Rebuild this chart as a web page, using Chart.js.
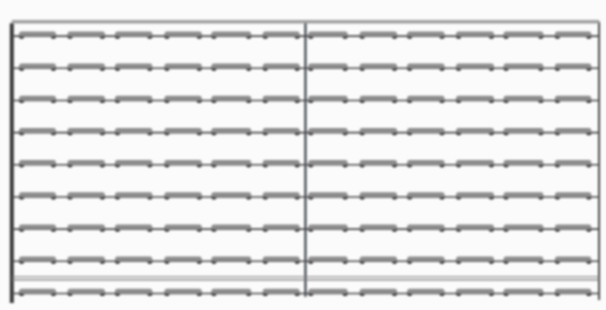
<!DOCTYPE html>
<html>
<head>
<meta charset="utf-8">
<script src="https://cdn.jsdelivr.net/npm/chart.js@4.4.1/dist/chart.umd.min.js"></script>
<style>
  html, body { margin: 0; padding: 0; background: #fbfbfb; }
  #wrap { width: 606px; height: 310px; }
  canvas { filter: blur(0.8px); }
</style>
</head>
<body>
<div id="wrap"><canvas id="gridChart" width="606" height="310"></canvas></div>
<script>
// rows of the rack (y in row units), and the frame lines
const rows = [1, 2, 3, 4, 5, 6, 7, 8, 9];
const borders = [0, 6, 12];          // left frame, middle post, right frame (x)
const topRail = 0.55;                // top horizontal rail (y)
const lowRails = [8.48, 8.58];       // double rail near the bottom (y)
const postTop = [0.6, 0.55, 0.55];
const postBottom = [9.3, 9.1, 9.2];

// segment starts / ends along each row (x in period units)
const segStart = [0.20, 1.19, 2.16, 3.17, 4.13, 5.18, 6.11, 7.16, 8.13, 9.13, 10.10, 11.15];
const segEnd   = [0.85, 1.85, 2.82, 3.83, 4.84, 5.83, 6.81, 7.82, 8.79, 9.80, 10.81, 11.79];

let datasets = [];

// raised light bars on each segment (dark rim, light fill)
rows.forEach((r) => {
  let pts = [];
  for (let i = 0; i < segStart.length; i++) {
    pts.push({ x: segStart[i], y: r - 0.07 });
    pts.push({ x: segEnd[i], y: r - 0.07 });
    pts.push({ x: segEnd[i], y: null });
  }
  datasets.push({
    label: "bars rim " + r,
    data: pts,
    showLine: true,
    spanGaps: false,
    borderColor: "#8c8c8c",
    borderWidth: 5,
    borderCapStyle: "round",
    pointRadius: 0,
  });
  datasets.push({
    label: "bars " + r,
    data: pts,
    showLine: true,
    spanGaps: false,
    borderColor: "#c4c4c4",
    borderWidth: 2.5,
    borderCapStyle: "round",
    pointRadius: 0,
  });
});

// baseline of each row
rows.forEach((r) => {
  datasets.push({
    label: "row " + r,
    data: [{ x: borders[0], y: r }, { x: borders[2], y: r }],
    showLine: true,
    borderColor: "#4a4a4a",
    borderWidth: 1.6,
    pointRadius: 0,
  });
});

// end markers of each segment
rows.forEach((r) => {
  let pts = [];
  for (let i = 0; i < segStart.length; i++) {
    pts.push({ x: segStart[i], y: r });
    pts.push({ x: segEnd[i], y: r });
  }
  datasets.push({
    label: "marks " + r,
    data: pts,
    showLine: false,
    pointRadius: 2.6,
    pointBackgroundColor: "#333",
    pointBorderWidth: 0,
  });
});

// top rail
datasets.push({
  label: "top rail",
  data: [{ x: borders[0], y: topRail }, { x: borders[2], y: topRail }],
  showLine: true,
  borderColor: "#a0a0a0",
  borderWidth: 3.5,
  pointRadius: 0,
});

// bottom double rail
lowRails.forEach((y) => {
  datasets.push({
    label: "low rail",
    data: [{ x: borders[0], y: y }, { x: borders[2], y: y }],
    showLine: true,
    borderColor: "#7a7a7a",
    borderWidth: 1.2,
    pointRadius: 0,
  });
});

// vertical posts
let postWidth = [4, 2.2, 2];
let postColor = ["#3a3a3a", "#3a4250", "#4a4a4a"];
borders.forEach((b, i) => {
  datasets.push({
    label: "post " + i,
    data: [{ x: b, y: postTop[i] }, { x: b, y: postBottom[i] }],
    showLine: true,
    borderColor: postColor[i],
    borderWidth: postWidth[i],
    pointRadius: 0,
  });
});

let options = {
  responsive: false,
  animation: false,
  layout: { padding: 0 },
  plugins: { legend: { display: false }, tooltip: { enabled: false } },
  scales: {
    x: { type: "linear", display: false, min: -0.16, max: 12.06 },
    y: { type: "linear", display: false, reverse: true, min: 0, max: 9.39 },
  },
};

var ctx = document.getElementById("gridChart").getContext("2d");
var myChart = new Chart(ctx, {
  type: "scatter",
  data: { datasets: datasets },
  options: options,
});
</script>
</body>
</html>
